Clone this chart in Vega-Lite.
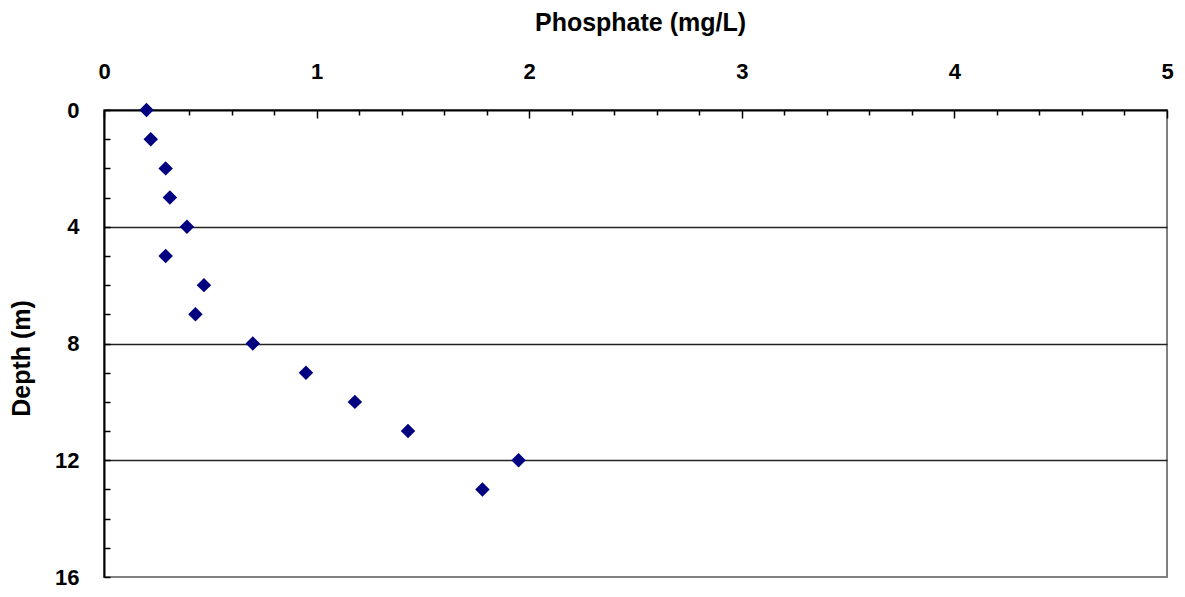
{
  "$schema": "https://vega.github.io/schema/vega-lite/v6.json",
  "width": 1063,
  "height": 467,
  "autosize": {"type": "none"},
  "padding": {"left": 104, "top": 110, "right": 18, "bottom": 20},
  "background": "white",
  "config": {
    "view": {"stroke": "#808080", "strokeWidth": 2},
    "font": "Liberation Sans"
  },
  "data": {
    "values": [
      {"depth": 0, "phosphate": 0.2},
      {"depth": 1, "phosphate": 0.22},
      {"depth": 2, "phosphate": 0.29},
      {"depth": 3, "phosphate": 0.31},
      {"depth": 4, "phosphate": 0.39},
      {"depth": 5, "phosphate": 0.29},
      {"depth": 6, "phosphate": 0.47},
      {"depth": 7, "phosphate": 0.43},
      {"depth": 8, "phosphate": 0.7},
      {"depth": 9, "phosphate": 0.95},
      {"depth": 10, "phosphate": 1.18},
      {"depth": 11, "phosphate": 1.43},
      {"depth": 12, "phosphate": 1.95},
      {"depth": 13, "phosphate": 1.78}
    ]
  },
  "mark": {"type": "point", "shape": "diamond", "filled": true, "size": 210, "color": "#000080", "opacity": 1},
  "encoding": {
    "x": {
      "field": "phosphate",
      "type": "quantitative",
      "scale": {"domain": [0, 5], "nice": false, "zero": false},
      "axis": {
        "orient": "top",
        "title": "Phosphate (mg/L)",
        "titleFont": "Liberation Sans",
        "titleFontSize": 25,
        "titleFontWeight": "bold",
        "titleColor": "black",
        "titleX": 536,
        "titleY": -88,
        "titleBaseline": "middle",
        "titleAlign": "center",
        "values": [0, 0.2, 0.4, 0.6, 0.8, 1, 1.2, 1.4, 1.6, 1.8, 2, 2.2, 2.4, 2.6, 2.8, 3, 3.2, 3.4, 3.6, 3.8, 4, 4.2, 4.4, 4.6, 4.8, 5],
        "labelExpr": "abs(datum.value - round(datum.value)) < 0.000001 ? format(datum.value, 'd') : ''",
        "labelFont": "Liberation Sans",
        "labelFontSize": 22,
        "labelFontWeight": "bold",
        "labelColor": "black",
        "labelFlush": false,
        "labelOverlap": false,
        "labelPadding": 47,
        "labelBaseline": "middle",
        "tickSize": {"condition": {"test": "abs(datum.value - round(datum.value)) < 0.000001", "value": -8}, "value": -5},
        "tickColor": "black",
        "tickWidth": 1.5,
        "domainColor": "black",
        "domainWidth": 2,
        "grid": false
      }
    },
    "y": {
      "field": "depth",
      "type": "quantitative",
      "scale": {"domain": [0, 16], "nice": false, "zero": false, "reverse": true},
      "axis": {
        "orient": "left",
        "title": "Depth (m)",
        "titleFont": "Liberation Sans",
        "titleFontSize": 25,
        "titleFontWeight": "bold",
        "titleColor": "black",
        "titleX": -83,
        "titleY": 248,
        "titleBaseline": "middle",
        "titleAlign": "center",
        "titleAngle": -90,
        "values": [0, 1, 2, 3, 4, 5, 6, 7, 8, 9, 10, 11, 12, 13, 14, 15, 16],
        "labelExpr": "datum.value % 4 === 0 ? format(datum.value, 'd') : ''",
        "labelFont": "Liberation Sans",
        "labelFontSize": 22,
        "labelFontWeight": "bold",
        "labelColor": "black",
        "labelFlush": false,
        "labelOverlap": false,
        "labelPadding": 31,
        "labelAlign": "right",
        "labelBaseline": "middle",
        "tickSize": -6,
        "tickColor": "black",
        "tickWidth": 1.5,
        "domainColor": "black",
        "domainWidth": 2,
        "grid": true,
        "gridColor": "#222222",
        "gridWidth": 1.3,
        "gridOpacity": {"condition": {"test": "datum.value % 4 === 0 && datum.value > 0 && datum.value < 16", "value": 1}, "value": 0}
      }
    }
  }
}
